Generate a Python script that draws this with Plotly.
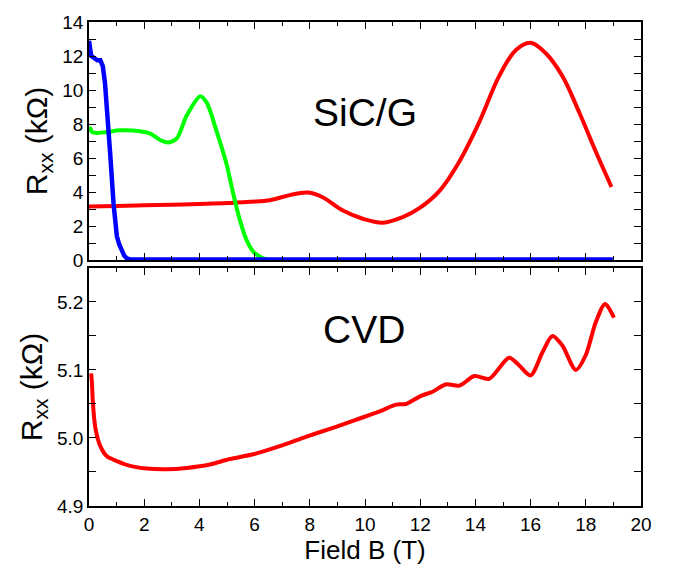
import plotly.graph_objects as go
from plotly.subplots import make_subplots

# ---- data ----
red_top_B = [0, 1, 2, 3, 4, 5, 5.83, 6.55, 7.27, 7.94, 8.48, 9.2, 9.92, 10.65, 11.37,
             11.97, 12.70, 13.42, 14.14, 14.86, 15.47, 16.0, 16.55, 17.15, 17.76, 18.36, 18.93]
red_top_R = [3.15, 3.18, 3.22, 3.26, 3.3, 3.35, 3.43, 3.52, 3.82, 3.97, 3.68, 2.91, 2.43,
             2.2, 2.53, 3.05, 4.07, 5.8, 8.11, 10.82, 12.36, 12.78, 12.16, 10.82, 8.69, 6.38, 4.3]

green_B = [0, 0.05, 0.1, 0.23, 0.6, 1.13, 1.85, 2.22, 2.58, 2.88, 3.18, 3.54, 4.03, 4.26,
           4.63, 4.99, 5.23, 5.47, 5.71, 5.95, 6.31, 6.5]
green_R = [7.55, 7.75, 7.55, 7.48, 7.52, 7.63, 7.58, 7.44, 7.06, 6.92, 7.15, 8.5, 9.64, 9.27,
           7.54, 5.61, 3.87, 2.33, 1.17, 0.5, 0.1, 0.03]

blue_B = [0, 0.03, 0.08, 0.17, 0.3, 0.41, 0.5, 0.58, 0.65, 0.77, 0.89, 1.01, 1.1, 1.19,
          1.28, 1.37, 1.5, 2, 4, 6, 8, 10, 12, 14, 16, 18, 18.98]
blue_R = [12.9, 12.4, 12.0, 11.9, 11.75, 11.75, 11.4, 10.4, 9.1, 6.2, 3.3, 1.4, 0.9, 0.55,
          0.25, 0.1, 0.04, 0.03, 0.03, 0.03, 0.03, 0.03, 0.03, 0.03, 0.03, 0.03, 0.03]

cvd_B = [0.08, 0.11, 0.14, 0.23, 0.41, 0.65, 1.01, 1.49, 2.1, 2.82, 3.54, 4.38, 5.1, 5.95,
         6.91, 7.88, 8.84, 9.69, 10.53, 11.13, 11.49, 12.03, 12.45, 12.94, 13.42, 13.96,
         14.5, 15.22, 15.58, 16.0, 16.43, 16.79, 17.15, 17.64, 18.0, 18.36, 18.7, 19.02]
cvd_R = [5.095, 5.078, 5.053, 5.015, 4.988, 4.973, 4.966, 4.959, 4.955, 4.954, 4.956, 4.961,
         4.969, 4.976, 4.988, 5.002, 5.015, 5.027, 5.039, 5.049, 5.050, 5.062, 5.068, 5.079,
         5.077, 5.091, 5.087, 5.118, 5.107, 5.092, 5.126, 5.150, 5.136, 5.100, 5.122, 5.170,
         5.197, 5.177]

FONT = "Liberation Sans, Arial, sans-serif"

fig = make_subplots(rows=2, cols=1, shared_xaxes=True, vertical_spacing=8 / 492)

fig.add_trace(go.Scatter(x=red_top_B, y=red_top_R, mode="lines",
                         line=dict(color="#FF0000", width=4, shape="spline", smoothing=1.0)),
              row=1, col=1)
fig.add_trace(go.Scatter(x=green_B, y=green_R, mode="lines",
                         line=dict(color="#00FF00", width=4, shape="spline", smoothing=0.8)),
              row=1, col=1)
fig.add_trace(go.Scatter(x=blue_B, y=blue_R, mode="lines",
                         line=dict(color="#0000FF", width=4.5)),
              row=1, col=1)
fig.add_trace(go.Scatter(x=cvd_B, y=cvd_R, mode="lines",
                         line=dict(color="#FF0000", width=4, shape="spline", smoothing=0.8)),
              row=2, col=1)

axis_common = dict(showline=True, linecolor="black", linewidth=1.5, mirror="ticks",
                   ticks="inside", tickcolor="black", tickwidth=1.2, showgrid=False,
                   zeroline=False, tickfont=dict(family=FONT, size=19, color="black"))

fig.update_xaxes(range=[0, 20], dtick=2, ticklen=7,
                 minor=dict(dtick=1, ticks="inside", ticklen=4, tickcolor="black", tickwidth=1.2),
                 **axis_common)
fig.update_xaxes(showticklabels=False, row=1, col=1)
fig.update_xaxes(title=dict(text="Field B (T)", font=dict(family=FONT, size=26, color="black"),
                            standoff=4), row=2, col=1)

ytitle_font = dict(family=FONT, size=30, color="black")
fig.update_yaxes(range=[0, 14], dtick=2, ticklen=7,
                 minor=dict(dtick=1, ticks="inside", ticklen=7, tickcolor="black", tickwidth=1.2),
                 title=dict(text="R<sub>xx</sub> (kΩ)", font=ytitle_font, standoff=6),
                 row=1, col=1, **axis_common)
fig.update_yaxes(range=[4.9, 5.25], dtick=0.1, tick0=4.9, tickformat=".1f", ticklen=7,
                 minor=dict(dtick=0.05, ticks="inside", ticklen=7, tickcolor="black", tickwidth=1.2),
                 title=dict(text="R<sub>xx</sub> (kΩ)", font=ytitle_font, standoff=6),
                 row=2, col=1, **axis_common)

fig.add_annotation(x=10.0, y=8.65, xref="x", yref="y", text="SiC/G", showarrow=False,
                   font=dict(family=FONT, size=39, color="black"))
fig.add_annotation(x=9.95, y=5.16, xref="x2", yref="y2", text="CVD", showarrow=False,
                   font=dict(family=FONT, size=39, color="black"))

fig.update_layout(width=673, height=569, showlegend=False,
                  paper_bgcolor="white", plot_bgcolor="white",
                  margin=dict(l=89, r=32, t=15, b=62))

fig.write_html("out.html")
